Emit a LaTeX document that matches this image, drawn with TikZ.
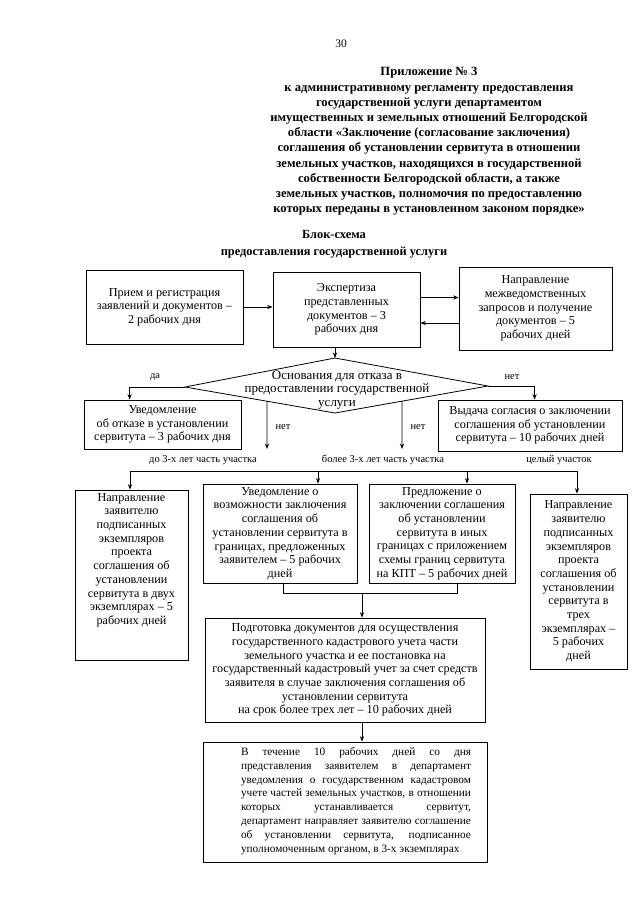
\documentclass[tikz,border=0pt]{standalone}
\usepackage{fontspec}
\setmainfont{Liberation Serif}
\usetikzlibrary{arrows.meta,calc}
\begin{document}
\begin{tikzpicture}[x=1pt,y=-1pt,
  box/.style={draw, line width=0.8pt, inner sep=0pt, align=center, font=\fontsize{12.2}{13.7}\selectfont},
  txt/.style={inner sep=0pt, align=center, font=\fontsize{12.2}{13.7}\selectfont},
  lab/.style={inner sep=0pt, font=\fontsize{10.5}{12}\selectfont},
  hdr/.style={inner sep=0pt, align=center, font=\bfseries\fontsize{12.6}{15.2}\selectfont},
  arr/.style={line width=0.8pt, -{Stealth[length=5.5pt,width=4.2pt]}},
  ln/.style={line width=0.8pt}]
\useasboundingbox (0,0) rectangle (640,905);
\fill[white] (0,0) rectangle (640,905);

% header
\node[inner sep=0pt, font=\fontsize{11.5}{13}\selectfont] (pg) at (341,44) {30};
\node[hdr] (head) at (429,141.5) {Приложение № 3\\
к административному регламенту предоставления\\
государственной услуги департаментом\\
имущественных и земельных отношений Белгородской\\
области «Заключение (согласование заключения)\\
соглашения об установлении сервитута в отношении\\
земельных участков, находящихся в государственной\\
собственности Белгородской области, а также\\
земельных участков, полномочия по предоставлению\\
которых переданы в установленном законом порядке»};
\node[hdr, font=\bfseries\fontsize{12.4}{16.8}\selectfont] (title) at (334,244.5) {Блок-схема\\предоставления государственной услуги};

% top row
\node[box, minimum width=157, minimum height=74] (b1) at (164.5,307) {Прием и регистрация\\заявлений и документов –\\2 рабочих дня};
\node[box, minimum width=147, minimum height=75] (b2) at (346.5,309.5) {Экспертиза\\представленных\\документов – 3\\рабочих дня};
\node[box, minimum width=153, minimum height=83] (b3) at (535.5,308.5) {Направление\\межведомственных\\запросов и получение\\документов – 5\\рабочих дней};

\draw[arr] (b1.east) -- (b1.east -| b2.west);
\coordinate (u1) at ($(b2.east)+(0,-12)$);
\coordinate (u2) at ($(b2.east)+(0,13.5)$);
\draw[arr] (u1) -- (u1 -| b3.west);
\draw[arr] (u2 -| b3.west) -- (u2);

% diamond
\coordinate (dT) at (335,358);
\coordinate (dL) at (185,387);
\coordinate (dB) at (335,413);
\coordinate (dR) at (488,386);
\draw[ln] (dT) -- (dR) -- (dB) -- (dL) -- cycle;
\node[txt, font=\fontsize{13}{13.5}\selectfont] (dtext) at (337,390) {Основания для отказа в\\предоставлении государственной\\услуги};
\draw[arr] (b2.south -| dT) -- (dT);

% second row
\node[box, minimum width=157, minimum height=49] (b4) at (162.5,424.5) {Уведомление\\об отказе в установлении\\сервитута – 3 рабочих дня};
\node[box, minimum width=184, minimum height=51] (b5) at (530,425.5) {Выдача согласия о заключении\\соглашения об установлении\\сервитута – 10 рабочих дней};

\node[lab] (da) at (155,377) {да};
\node[lab] (net0) at (512,377) {нет};
\draw[arr] (dL) -| ($(b4.north west)+(46,0)$);
\draw[arr] (dR) -| ($(b5.north west)+(97,0)$);

\coordinate (n1s) at ($(dL)!0.5467!(dB)$);
\coordinate (n2s) at ($(dB)!0.438!(dR)$);
\coordinate (n1e) at (267,449);
\coordinate (n2e) at (402,449);
\draw[arr] (n1s) -- (n1e);
\draw[arr] (n2s) -- (n2e);
\node[lab] (net1) at (283,427) {нет};
\node[lab] (net2) at (418,427) {нет};

% labels
\node[lab] (l1) at (203,460) {до 3-х лет часть участка};
\node[lab] (l2) at (383,460) {более 3-х лет часть участка};
\node[lab] (l3) at (559,460) {целый участок};

% third row
\node[box, minimum width=113, minimum height=170] (b6) at (131.5,575) {};
\node[txt, anchor=north] (b6t) at (131.5,493) {Направление\\заявителю\\подписанных\\экземпляров\\проекта\\соглашения об\\установлении\\сервитута в двух\\экземплярах – 5\\рабочих дней};
\node[box, minimum width=154, minimum height=99] (b7) at (280,533.5) {Уведомление о\\возможности заключения\\соглашения об\\установлении сервитута в\\границах, предложенных\\заявителем – 5 рабочих\\дней};
\node[box, minimum width=146, minimum height=99] (b8) at (442,533.5) {Предложение о\\заключении соглашения\\об установлении\\сервитута в иных\\границах с приложением\\схемы границ сервитута\\на КПТ – 5 рабочих дней};
\node[box, minimum width=97, minimum height=175] (b9) at (578.5,581.5) {Направление\\заявителю\\подписанных\\экземпляров\\проекта\\соглашения об\\установлении\\сервитута в\\трех\\экземплярах –\\5 рабочих\\дней};

\coordinate (bus1) at (130,471);
\coordinate (bus2) at (318,471);
\coordinate (bus3) at (467,471);
\coordinate (bus4) at (577,471);
\draw[ln] (bus1) -- (bus4);
\draw[arr] (bus1) -- (bus1 |- b6.north);
\draw[arr] (bus2) -- (bus2 |- b7.north);
\draw[arr] (bus3) -- (bus3 |- b8.north);
\draw[arr] (bus4) -- (bus4 |- b9.north);

% fourth row
\node[box, minimum width=280, minimum height=104] (b10) at (345,670) {Подготовка документов для осуществления\\государственного кадастрового учета части\\земельного участка и ее постановка на\\государственный кадастровый учет за счет средств\\заявителя в случае заключения соглашения об\\установлении сервитута\\на срок более трех лет – 10 рабочих дней};

\coordinate (m7) at ($(b7.south)+(3,0)$);
\coordinate (m8) at ($(b8.south)+(15,0)$);
\coordinate (mj) at (362,593);
\draw[ln] (m7) |- (mj);
\draw[ln] (m8) |- (mj);
\draw[arr] (mj) -- (mj |- b10.north);

% last box
\node[box, minimum width=284, minimum height=120] (b11) at (345,802) {};
\node[txt, align=left, font=\fontsize{11.3}{13.8}\selectfont] (b11t) at (356,801) {\makebox[230pt][s]{В течение 10 рабочих дней со дня}\\
\makebox[230pt][s]{представления заявителем в департамент}\\
\makebox[230pt][s]{уведомления о государственном кадастровом}\\
\makebox[230pt][s]{учете частей земельных участков, в отношении}\\
\makebox[230pt][s]{которых устанавливается сервитут,}\\
\makebox[230pt][s]{департамент направляет заявителю соглашение}\\
\makebox[230pt][s]{об установлении сервитута, подписанное}\\
уполномоченным органом, в 3-х экземплярах};
\draw[arr] (b10.south -| mj) -- (b11.north -| mj);
\end{tikzpicture}
\end{document}
